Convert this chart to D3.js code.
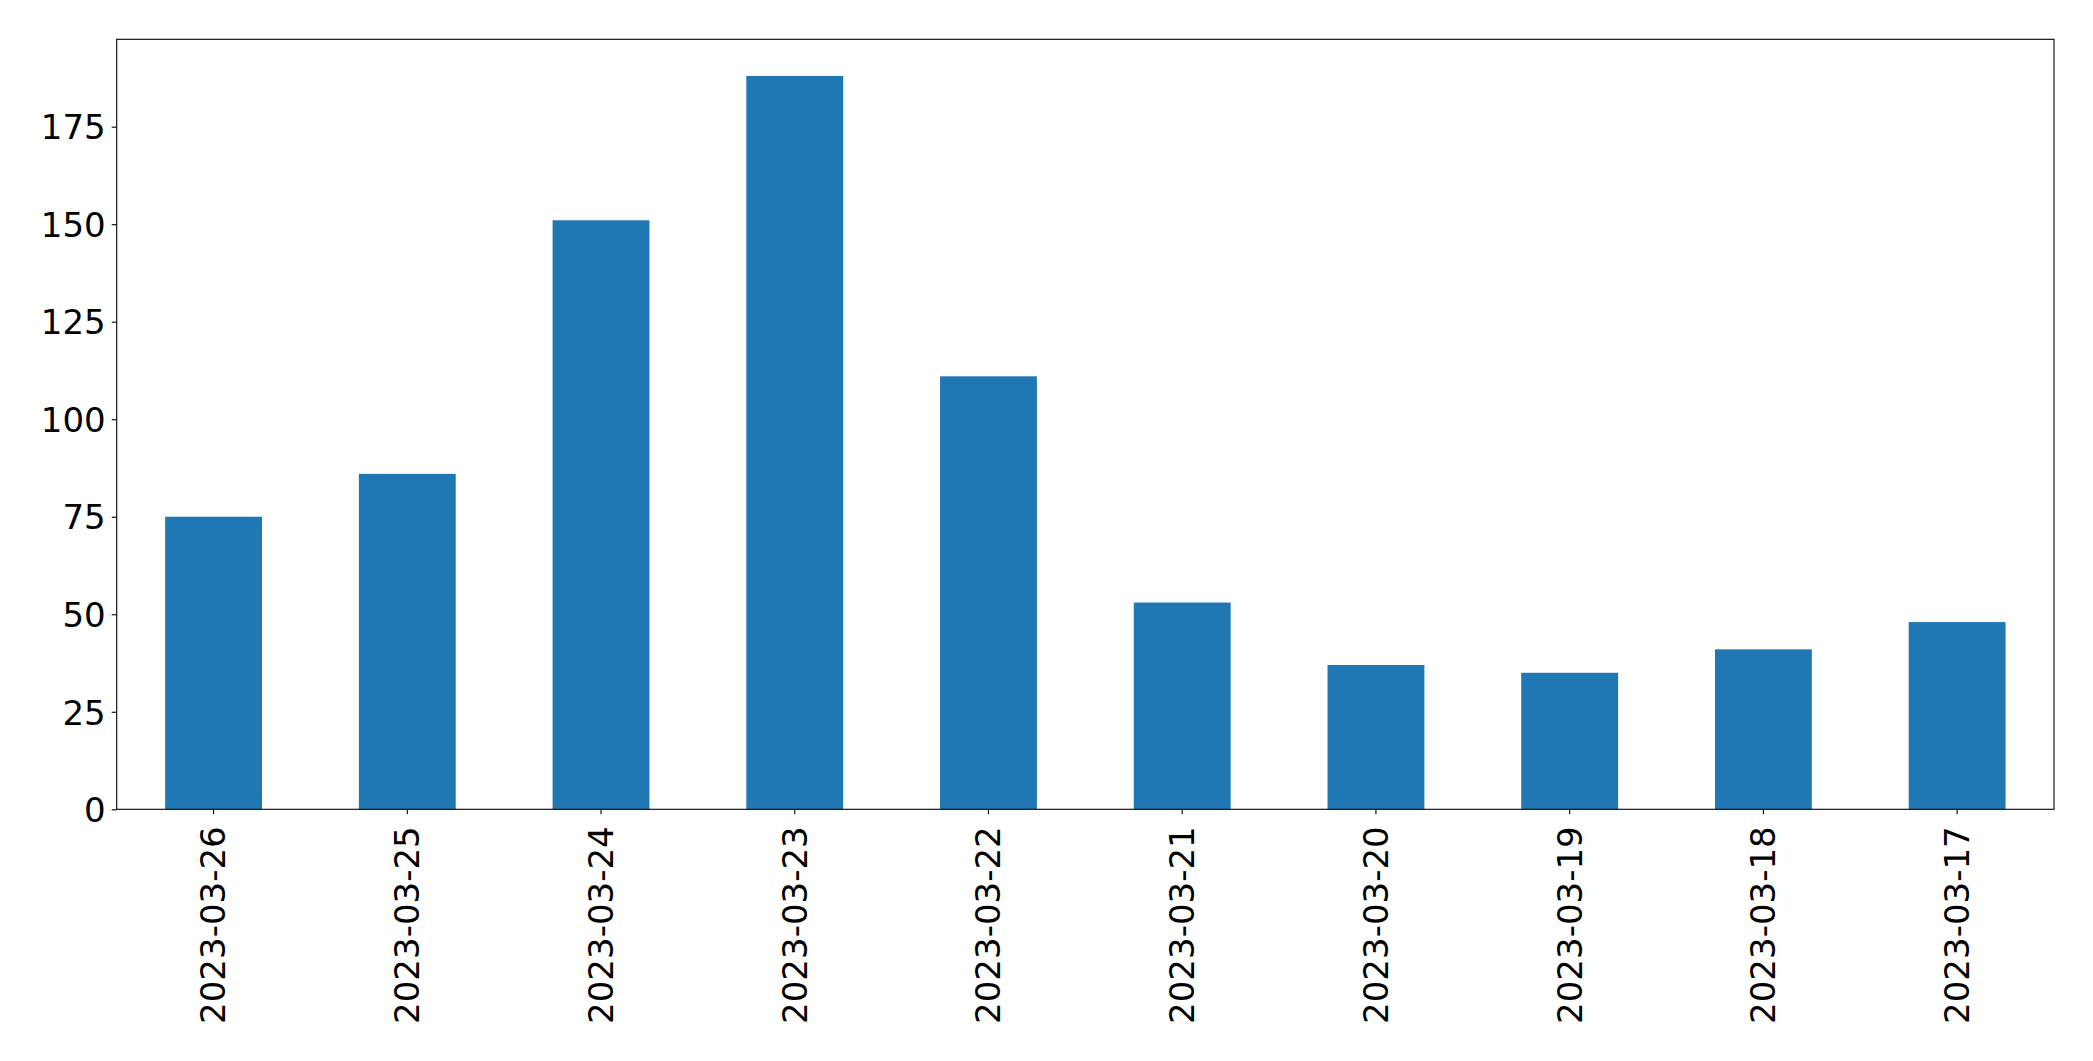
<!DOCTYPE html>
<html><head><meta charset="utf-8">
<script src="https://cdn.jsdelivr.net/npm/d3@7"></script>
<style>body{margin:0;background:#fff}svg{display:block}</style>
</head><body>
<svg id="c" width="2093" height="1061"></svg>
<script>
const categories = ["2023-03-26","2023-03-25","2023-03-24","2023-03-23","2023-03-22","2023-03-21","2023-03-20","2023-03-19","2023-03-18","2023-03-17"];
const values = [75, 86, 151, 188, 111, 53, 37, 35, 41, 48];
const yTicks = [0, 25, 50, 75, 100, 125, 150, 175];

const svg = d3.select("#c");
const L = 116.7, R = 2054, T = 39.3, B = 809.3;
const font = "DejaVu Sans, sans-serif";
const fs = 34;

const x = d3.scaleBand().domain(categories).range([L, R]).paddingInner(0.5).paddingOuter(0.25);
const y = d3.scaleLinear().domain([0, d3.max(values) * 1.05]).range([B, T]);

svg.append("g").selectAll("rect").data(values).join("rect")
  .attr("x", (d, i) => x(categories[i]))
  .attr("width", x.bandwidth())
  .attr("y", d => y(d))
  .attr("height", d => B - y(d))
  .attr("fill", "#1f77b4");

const yAxis = svg.append("g").attr("transform", `translate(${L},0)`)
  .call(d3.axisLeft(y).tickValues(yTicks).tickSize(5).tickPadding(6).tickFormat(d3.format("d")));
yAxis.select(".domain").remove();
yAxis.selectAll("line").attr("stroke", "#000").attr("stroke-width", 1.1);
yAxis.selectAll("text").attr("font-family", font).attr("font-size", fs).attr("fill", "#000").attr("dy", "0.36em");

const xAxis = svg.append("g").attr("transform", `translate(0,${B})`)
  .call(d3.axisBottom(x).tickSize(5).tickPadding(0));
xAxis.select(".domain").remove();
xAxis.selectAll("line").attr("stroke", "#000").attr("stroke-width", 1.1);
xAxis.selectAll("text")
  .attr("font-family", font).attr("font-size", fs).attr("fill", "#000")
  .attr("transform", "translate(0,17) rotate(-90)")
  .attr("text-anchor", "end").attr("x", 0).attr("y", 0).attr("dy", "0.35em");

svg.append("rect").attr("x", L).attr("y", T).attr("width", R - L).attr("height", B - T)
  .attr("fill", "none").attr("stroke", "#000").attr("stroke-width", 1.1);
</script>
</body></html>
